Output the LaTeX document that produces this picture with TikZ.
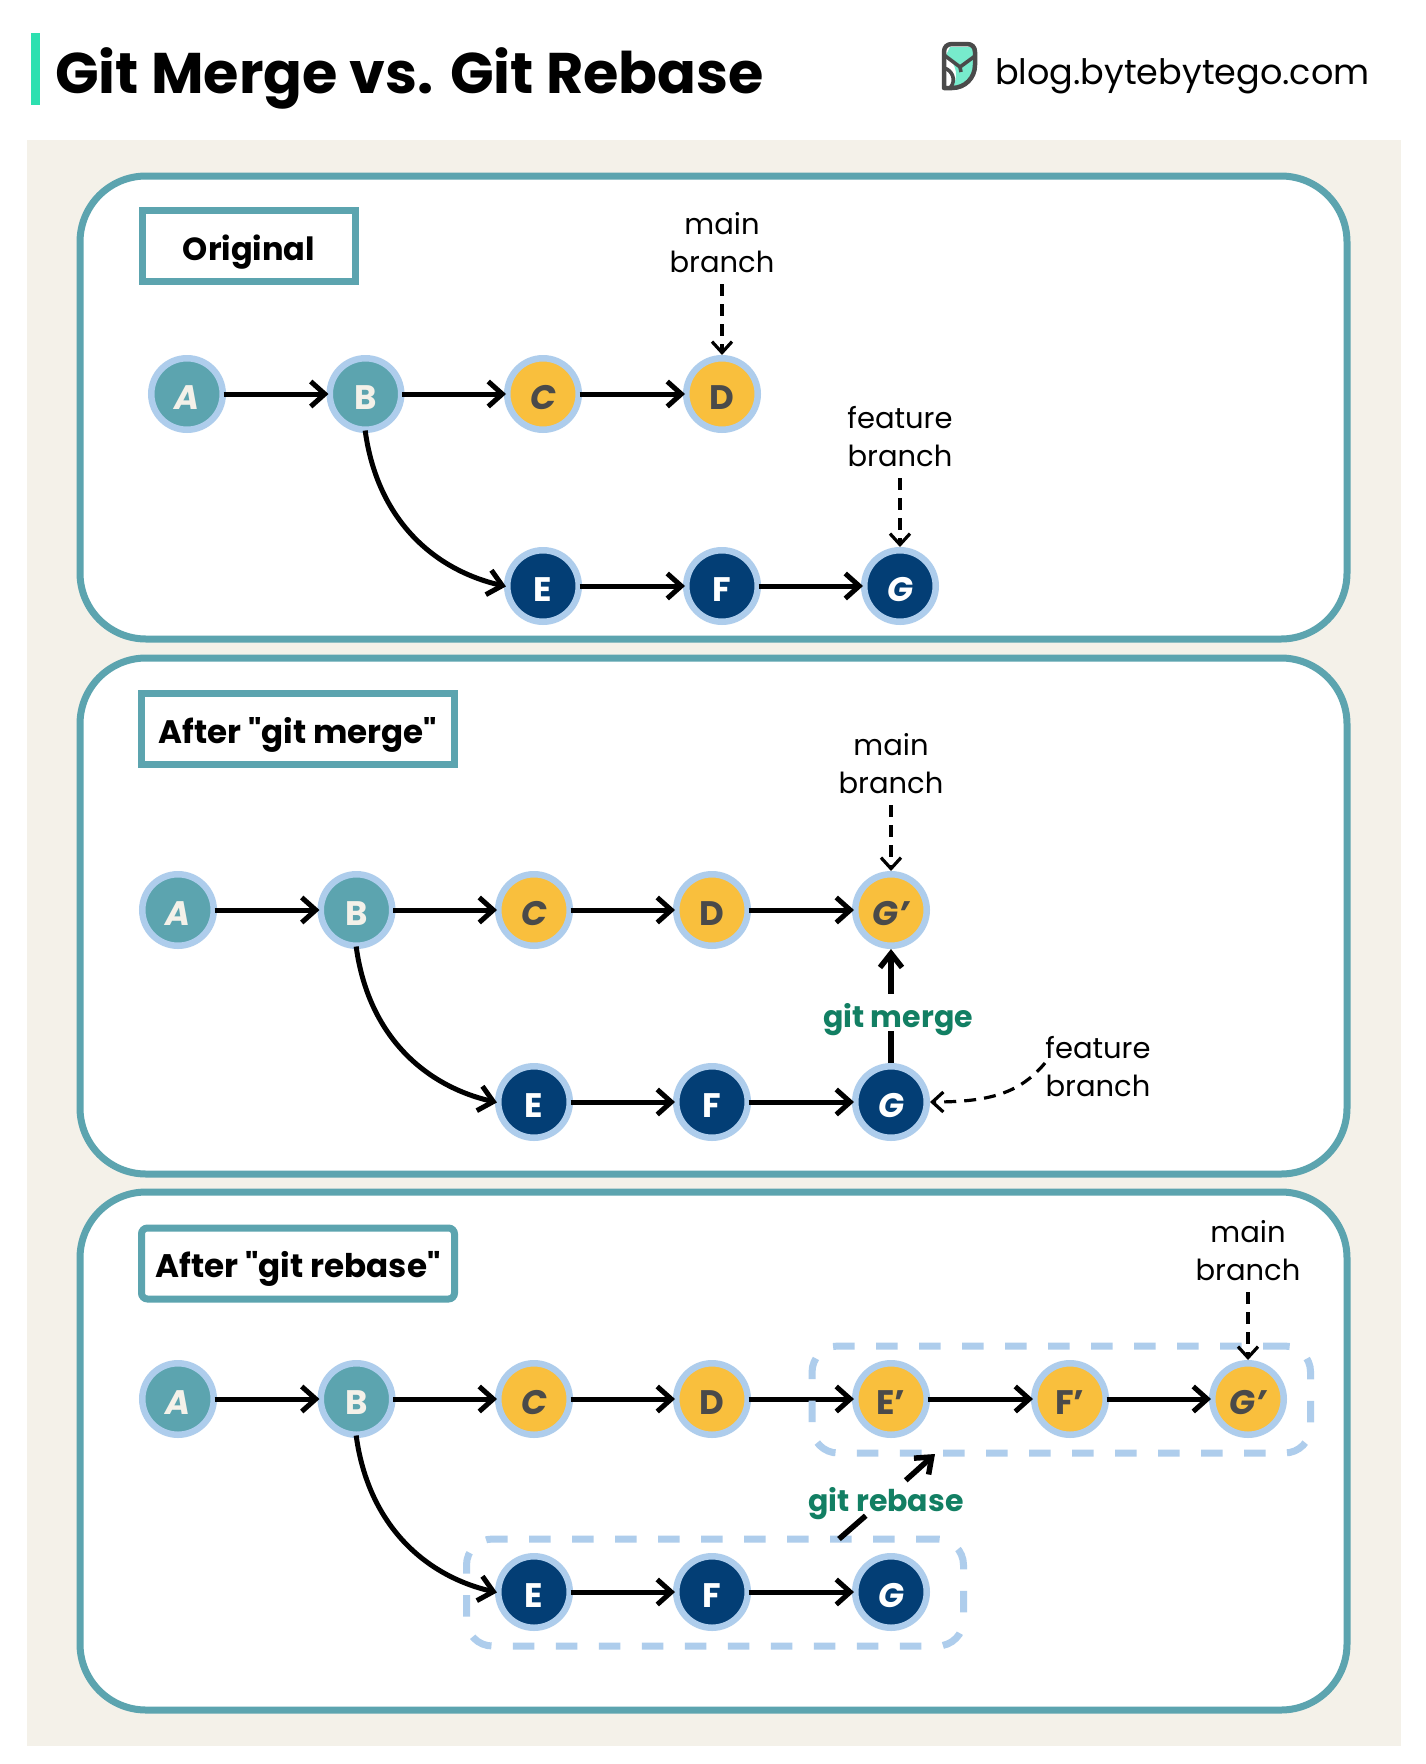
\documentclass[tikz,border=0pt]{standalone}
\usepackage{fontspec}
\setmainfont{Poppins}
\newfontfamily\pop{Poppins}
\usetikzlibrary{arrows.meta}
\definecolor{teal1}{HTML}{5CA4AF}
\definecolor{ring}{HTML}{AECDEC}
\definecolor{amber}{HTML}{F9BF3D}
\definecolor{navy}{HTML}{033E75}
\definecolor{cream}{HTML}{F4F1E9}
\definecolor{mint}{HTML}{2DE0B0}
\definecolor{leaf}{HTML}{127F63}
\definecolor{grayt}{HTML}{4A4A4A}
\newcommand{\fs}[1]{\fontsize{#1}{#1}\selectfont}
\tikzset{
 x=1pt,y=-1pt,
 panel/.style={draw=teal1,line width=7pt,fill=white,rounded corners=66pt},
 tag/.style={draw=teal1,line width=7pt,fill=white,minimum height=71pt,inner sep=0pt,text height=28pt,text depth=0pt},
 commit/.style={circle,draw=ring,line width=6.5pt,minimum size=71.5pt,inner sep=0pt,font=\fs{34}\bfseries,text height=30pt,text depth=0pt},
 tealc/.style={commit,fill=teal1,text=cream},
 ambc/.style={commit,fill=amber,text=grayt},
 navc/.style={commit,fill=navy,text=white},
 arr/.style={draw=black,line width=5pt,shorten <=-2.5pt,shorten >=-2pt,-{Straight Barb[length=14pt,width=25pt,line width=5pt]}},
 thickarr/.style={arr,line width=5.5pt,shorten <=0pt,shorten >=0pt,-{Straight Barb[length=14pt,width=22pt,line width=5.5pt]}},
 dasharr/.style={draw=black,line width=3.2pt,dash pattern=on 12pt off 8pt,-{Straight Barb[length=11pt,width=20pt,line width=3.2pt]}},
 vdash/.style={dasharr,shorten <=11pt},
 lab/.style={align=center,font=\fontsize{29}{38}\selectfont,inner sep=0pt},
 green/.style={text=leaf,font=\fs{30}\bfseries,inner sep=0pt},
 grp/.style={draw=ring,line width=7pt,dash pattern=on 21.5pt off 21.5pt,rounded corners=26pt,inner sep=0pt},
}
\begin{document}
\begin{tikzpicture}
\useasboundingbox (0,0) rectangle (1425,1764);
\fill[white] (0,0) rectangle (1425,1764);
\fill[mint] (31,33) rectangle (40,105);
\node[anchor=west,inner sep=0pt,font=\fs{57.3}\bfseries] (title) at (55,78) {Git Merge vs. Git Rebase};
% logo
\fill[mint!65!white] (950,47) -- (975,47) -- (975,65) .. controls (975,78) and (965,88) .. (952,88) .. controls (959,78) and (957,64) .. (946,55) -- cycle;
\draw[grayt,line width=4.5pt,line join=round] (944,88) -- (944,52) .. controls (944,47) and (947,44) .. (952,44) -- (967,44) .. controls (972,44) and (975,47) .. (975,52) -- (975,65) .. controls (975,78) and (965,88) .. (952,88) -- cycle;
\draw[grayt,line width=3.6pt,line join=round] (944,55) -- (960,67) -- (975,56);
\draw[grayt,line width=3.6pt] (960,67) -- (961,72);
\draw[grayt,line width=3.6pt] (944,68) .. controls (952,70) and (957,80) .. (950,88);
\node[anchor=west,inner sep=0pt,font=\fs{35}] (site) at (995,76) {blog.bytebytego.com};
% background
\fill[cream] (27,140) rectangle (1401,1746);
\path[panel] (80,176) rectangle (1347,639);
\path[panel] (80,658) rectangle (1347,1174);
\path[panel] (80,1192) rectangle (1347,1710);
% tags
\node[tag,minimum width=213pt,font=\fs{32}\pop\bfseries] (t1) at (249,246) {Original};
\node[tag,minimum width=313pt,font=\fs{32.5}\pop\bfseries] (t2) at (298,729) {After "git merge"};
\node[tag,minimum width=313pt,rounded corners=6pt,font=\fs{32.6}\pop\bfseries] (t3) at (298,1263.5) {After "git rebase"};
% panel 1
\node[tealc] (a1) at (187,394) {\itshape A};
\node[tealc] (b1) at (365.5,394) {B};
\node[ambc] (c1) at (543,394) {\itshape C};
\node[ambc] (d1) at (722,394) {D};
\node[navc] (e1) at (543,586) {E};
\node[navc] (f1) at (722,586) {F};
\node[navc] (g1) at (900,586) {\itshape G};
\draw[arr] (a1)--(b1);\draw[arr] (b1)--(c1);\draw[arr] (c1)--(d1);
\draw[arr] (e1)--(f1);\draw[arr] (f1)--(g1);
\draw[arr] (b1.south) .. controls +(12,88) and +(-69,-16) .. (e1.west);
\node[lab] (m1) at (722,243) {main\\branch};
\node[lab] (s1) at (900,437) {feature\\branch};
\draw[vdash] (m1) -- (d1);
\draw[vdash] (s1) -- (g1);
% panel 2
\node[tealc] (a2) at (178,910) {\itshape A};
\node[tealc] (b2) at (356.5,910) {B};
\node[ambc] (c2) at (534,910) {\itshape C};
\node[ambc] (d2) at (712,910) {D};
\node[ambc] (h2) at (891,910) {\itshape G'};
\node[navc] (e2) at (534,1102) {E};
\node[navc] (f2) at (712,1102) {F};
\node[navc] (g2) at (891,1102) {\itshape G};
\draw[arr] (a2)--(b2);\draw[arr] (b2)--(c2);\draw[arr] (c2)--(d2);\draw[arr] (d2)--(h2);
\draw[arr] (e2)--(f2);\draw[arr] (f2)--(g2);
\draw[arr] (b2.south) .. controls +(12,88) and +(-69,-16) .. (e2.west);
\node[lab] (m2) at (891,764) {main\\branch};
\node[lab] (s2) at (1098,1067) {feature\\branch};
\draw[vdash] (m2) -- (h2);
\coordinate (s2c) at (1045,1063);
\draw[dasharr] (s2c) .. controls +(-25,30) and +(60,0) .. (g2.east);
\node[green,text height=33pt,text depth=4pt] (gm) at (898,1012.5) {git merge};
\draw[thickarr,-] (g2) -- (gm.south -| g2);
\draw[thickarr] (gm.north -| g2) -- (h2);
% panel 3
\node[tealc] (a3) at (178,1399) {\itshape A};
\node[tealc] (b3) at (356.5,1399) {B};
\node[ambc] (c3) at (534,1399) {\itshape C};
\node[ambc] (d3) at (712,1399) {D};
\node[ambc] (e4) at (891,1399) {E'};
\node[ambc] (f4) at (1070,1399) {F'};
\node[ambc] (g4) at (1248,1399) {\itshape G'};
\node[navc] (e3) at (534,1592) {E};
\node[navc] (f3) at (712,1592) {F};
\node[navc] (g3) at (891,1592) {\itshape G};
\draw[arr] (a3)--(b3);\draw[arr] (b3)--(c3);\draw[arr] (c3)--(d3);\draw[arr] (d3)--(e4);\draw[arr] (e4)--(f4);\draw[arr] (f4)--(g4);
\draw[arr] (e3)--(f3);\draw[arr] (f3)--(g3);
\draw[arr] (b3.south) .. controls +(12,88) and +(-69,-16) .. (e3.west);
% groups
\node[grp,minimum width=498.5pt,minimum height=107pt] (up) at (1061.3,1399.5) {};
\node[grp,minimum width=497pt,minimum height=107pt] (lo) at (715,1592.5) {};
\node[lab] (m3) at (1248,1251) {main\\branch};
\draw[vdash] (m3) -- (g4);
\node[green,text height=31pt,text depth=4pt] (gr) at (886,1498) {git rebase};
\coordinate (rs) at (839,1539);
\coordinate (re) at (935,1454);
\draw[thickarr,-] (rs) -- (gr);
\draw[thickarr] (gr) -- (re);
\end{tikzpicture}
\end{document}
